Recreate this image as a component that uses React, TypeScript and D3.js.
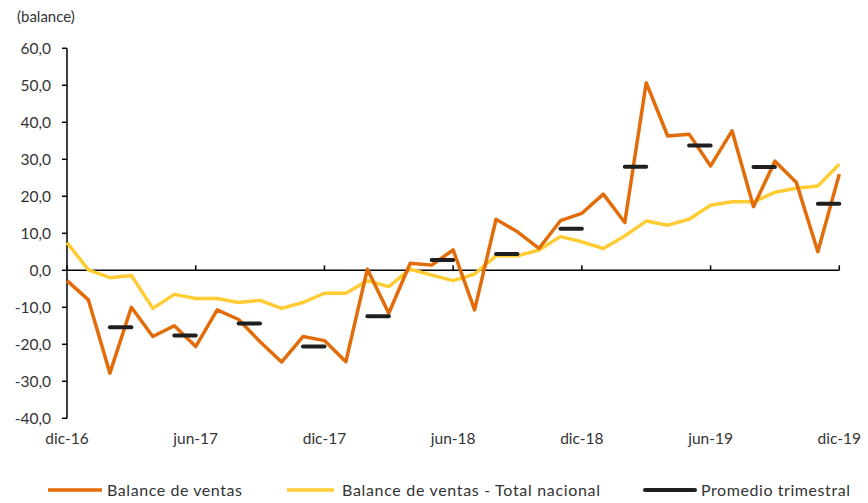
import React from "react";
import * as d3 from "d3";

const months = d3.range(37);
const xTickIdx = [0, 6, 12, 18, 24, 30, 36];
const xTickLabels = ["dic-16", "jun-17", "dic-17", "jun-18", "dic-18", "jun-19", "dic-19"];
const yTicks = [-40, -30, -20, -10, 0, 10, 20, 30, 40, 50, 60];

const balanceVentas = [
  -2.8, -8.0, -27.8, -10.0, -17.9, -15.0, -20.6, -10.7, -13.3, -19.3, -24.8, -17.9, -19.0,
  -24.7, 0.3, -11.6, 1.9, 1.4, 5.5, -10.7, 13.8, 10.4, 5.9, 13.4, 15.4, 20.6, 12.9,
  50.7, 36.3, 36.8, 28.2, 37.7, 17.2, 29.5, 23.7, 5.0, 26.0,
];
const balanceNacional = [
  7.5, 0.1, -2.0, -1.4, -10.3, -6.5, -7.6, -7.6, -8.7, -8.1, -10.3, -8.7, -6.2,
  -6.2, -2.8, -4.4, 0.3, -1.3, -2.8, -1.0, 3.9, 3.9, 5.5, 9.1, 7.7, 5.9, 9.3,
  13.3, 12.2, 13.8, 17.6, 18.5, 18.5, 21.1, 22.2, 22.8, 28.7,
];
// quarterly average: value and the month index of the quarter's end
const promedioQuarterEnd = [3, 6, 9, 12, 15, 18, 21, 24, 27, 30, 33, 36];
const promedioValues = [-15.4, -17.6, -14.4, -20.6, -12.4, 2.8, 4.4, 11.2, 28.0, 33.7, 27.9, 18.0];

const W = 868;
const H = 503;
const ORANGE = "#E36C0A";
const YELLOW = "#FFCC33";
const BLACK = "#1F1F1F";
const FONT = "Lato, 'Open Sans', sans-serif";
const TEXT = "#333333";

export default function App() {
  const x = d3.scaleLinear().domain([0, 36]).range([67, 839.3]);
  const y = d3.scaleLinear().domain([-40, 60]).range([418.3, 48.3]);
  const line = d3
    .line<number>()
    .x((_, i) => x(i))
    .y((d) => y(d));
  const fmt = (v: number) => v.toFixed(1).replace(".", ",");

  const legend = [
    { label: "Balance de ventas", color: ORANGE, x0: 48, x1: 102, tx: 107, tw: 135, w: 3.5, cap: "butt" },
    { label: "Balance de ventas - Total nacional", color: YELLOW, x0: 287, x1: 334, tx: 342, tw: 258, w: 3.5, cap: "butt" },
    { label: "Promedio trimestral", color: BLACK, x0: 645, x1: 695, tx: 701, tw: 149, w: 4, cap: "round" },
  ];

  return (
    <svg
      width={W}
      height={H}
      style={{ position: "absolute", left: 0, top: 0, background: "#fff" }}
      fontFamily={FONT}
    >
      <rect width={W} height={H} fill="#fff" />
      <text x={17} y={22} fontSize={15} fill={TEXT}>
        (balance)
      </text>
      {/* y axis */}
      <line x1={x(0)} x2={x(0)} y1={y(60)} y2={y(-40)} stroke="#000" strokeWidth={1.5} />
      {yTicks.map((t) => (
        <g key={t}>
          <line x1={x(0) - 5} x2={x(0)} y1={y(t)} y2={y(t)} stroke="#000" strokeWidth={1.5} />
          <text x={51} y={y(t)} dy="0.35em" textAnchor="end" fontSize={15.5} fill={TEXT}>
            {fmt(t)}
          </text>
        </g>
      ))}
      {/* x axis at zero */}
      <line x1={x(0)} x2={x(36)} y1={y(0)} y2={y(0)} stroke="#000" strokeWidth={1.5} />
      {xTickIdx.map((m, k) => (
        <g key={m}>
          <line x1={x(m)} x2={x(m)} y1={y(0)} y2={y(0) - 5} stroke="#000" strokeWidth={1.5} />
          <text x={x(m)} y={444} textAnchor="middle" fontSize={15.5} fill={TEXT}>
            {xTickLabels[k]}
          </text>
        </g>
      ))}
      <path d={line(balanceNacional) || ""} fill="none" stroke={YELLOW} strokeWidth={3.5} strokeLinejoin="round" />
      <path d={line(balanceVentas) || ""} fill="none" stroke={ORANGE} strokeWidth={3.5} strokeLinejoin="round" />
      {promedioValues.map((v, k) => (
        <line
          key={k}
          x1={x(promedioQuarterEnd[k] - 1)}
          x2={x(promedioQuarterEnd[k])}
          y1={y(v)}
          y2={y(v)}
          stroke={BLACK}
          strokeWidth={4}
          strokeLinecap="round"
        />
      ))}
      {legend.map((l) => (
        <g key={l.label}>
          <line x1={l.x0} x2={l.x1} y1={490} y2={490} stroke={l.color} strokeWidth={l.w} strokeLinecap={l.cap as any} />
          <text
            x={l.tx}
            y={490}
            dy="0.35em"
            fontSize={16}
            fill={TEXT}
            textLength={l.tw}
            lengthAdjust="spacing"
          >
            {l.label}
          </text>
        </g>
      ))}
    </svg>
  );
}
